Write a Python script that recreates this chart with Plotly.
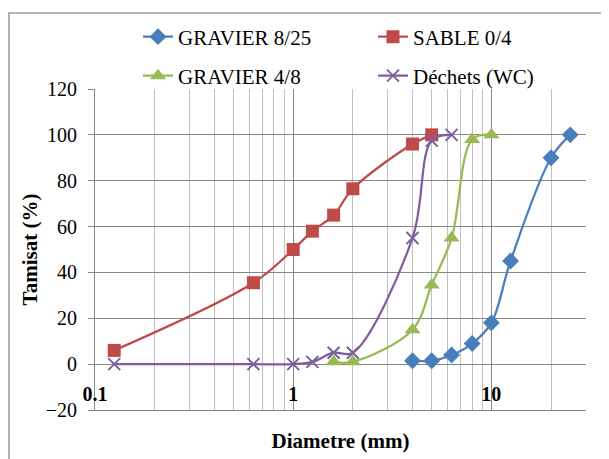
import plotly.graph_objects as go

# Data
g825_x = [4, 5, 6.3, 8, 10, 12.5, 20, 25]
g825_y = [1.5, 1.5, 4, 9, 18, 45, 90, 100]

sable_x = [0.125, 0.63, 1, 1.25, 1.6, 2, 4, 5]
sable_y = [6, 35.5, 50, 58, 65, 76.5, 96, 100]

g48_x = [1.6, 2, 4, 5, 6.3, 8, 10]
g48_y = [1, 1, 15, 34.5, 55, 98, 100]

wc_x = [0.125, 0.63, 1, 1.25, 1.6, 2, 4, 5, 6.3]
wc_y = [0, 0, 0, 1, 5, 5, 55, 97.5, 100]

FONT = "Liberation Serif"

# page body has an 8px margin; figure is sized to fill the rest of the window
W, H = 601, 451

fig = go.Figure()

def add(name, x, y, color, symbol, size, legend, lw=2.25):
    fig.add_trace(go.Scatter(
        x=x, y=y, name=name, mode="lines+markers",
        line=dict(color=color, width=lw, shape="spline", smoothing=1),
        marker=dict(symbol=symbol, size=size, color=color,
                    line=dict(color=color, width=2 if "x" in symbol else 0)),
        legend=legend,
    ))

add("GRAVIER 8/25", g825_x, g825_y, "#4A7EBB", "diamond", 13, "legend")
add("SABLE 0/4", sable_x, sable_y, "#BE4B48", "square", 13, "legend")
add("GRAVIER 4/8", g48_x, g48_y, "#98B954", "triangle-up", 14, "legend2")
add("Déchets (WC)", wc_x, wc_y, "#7D5FA0", "x-thin-open", 12, "legend2")

leg_common = dict(orientation="h", xref="container", yref="container",
                  xanchor="left", yanchor="middle", entrywidth=190,
                  entrywidthmode="pixels",
                  font=dict(family=FONT, size=21, color="black"),
                  bgcolor="rgba(0,0,0,0)", itemwidth=30)

fig.update_layout(
    width=W, height=H,
    margin=dict(l=87, r=23, t=81, b=49, autoexpand=False),
    paper_bgcolor="white", plot_bgcolor="white",
    font=dict(family=FONT, size=20, color="black"),
    showlegend=True,
    legend=dict(x=130/W, y=1-29/H, **leg_common),
    legend2=dict(x=130/W, y=1-68/H, **leg_common),
    xaxis=dict(
        type="log", range=[-1, 1.4775],
        dtick=1, showgrid=True, gridcolor="#868686", gridwidth=1,
        minor=dict(dtick="D1", showgrid=True, gridcolor="#BFBFBF", gridwidth=1, ticks=""),
        ticks="", showline=True, linecolor="#868686", linewidth=1,
        ticklabelposition="inside", ticklabeloverflow="allow",
        ticklabelstandoff=6,
        tickfont=dict(family=FONT, size=20, color="black", weight="bold"),
        title=dict(text="<b>Diametre (mm)</b>", standoff=29,
                   font=dict(family=FONT, size=21, color="black")),
        zeroline=False,
    ),
    yaxis=dict(
        range=[-20, 120], dtick=20,
        showgrid=True, gridcolor="#868686", gridwidth=1,
        ticks="outside", ticklen=6, tickcolor="#868686",
        showline=True, linecolor="#868686", linewidth=1,
        tickfont=dict(family=FONT, size=20, color="black"),
        ticklabelstandoff=7,
        title=dict(text="<b>Tamisat (%)</b>", standoff=2,
                   font=dict(family=FONT, size=21, color="black")),
        zeroline=False,
    ),
)

# outer chart border
fig.add_shape(type="rect", xref="paper", yref="paper",
              x0=(9-95)/491, x1=1.2, y0=-0.3, y1=(410-13)/321,
              line=dict(color="#9A9A9A", width=1.5), layer="below")

fig.write_html("out.html")
